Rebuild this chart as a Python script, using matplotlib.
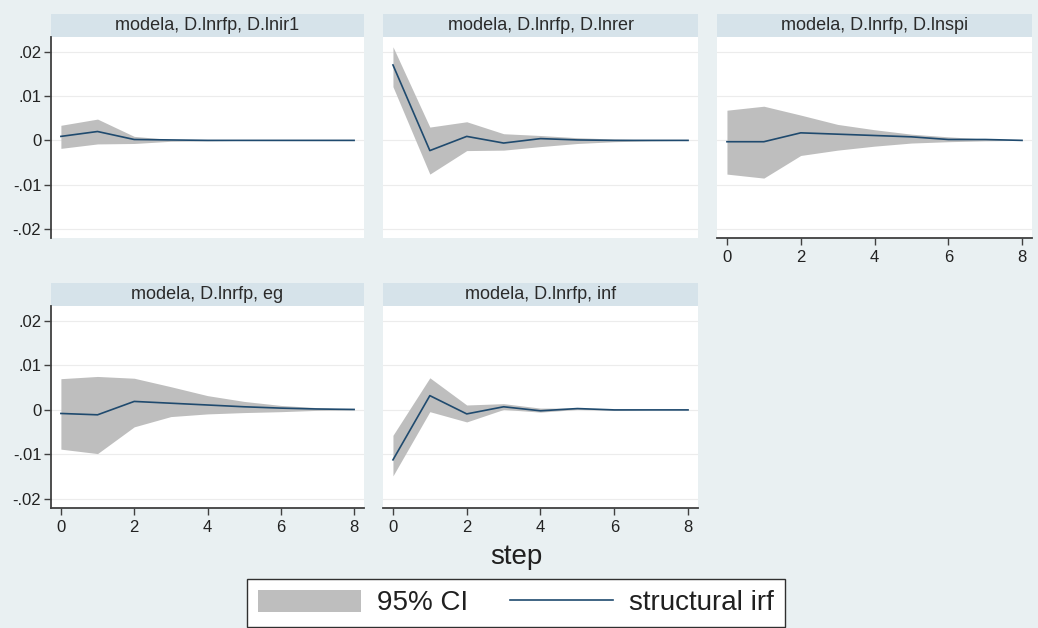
import numpy as np
import matplotlib
matplotlib.use('Agg')
import matplotlib.pyplot as plt

plt.rcParams['font.family'] = ['Liberation Sans', 'DejaVu Sans']

steps = [0, 1, 2, 3, 4, 5, 6, 7, 8]

titles = ['modela, D.lnrfp, D.lnir1', 'modela, D.lnrfp, D.lnrer', 'modela, D.lnrfp, D.lnspi',
          'modela, D.lnrfp, eg', 'modela, D.lnrfp, inf']

lnir1_irf = [0.0009, 0.0020, 0.0002, 0.0001, 0.0, 0.0, 0.0, 0.0, 0.0]
lnir1_lo = [-0.0018, -0.0008, -0.0007, -0.0002, -0.0001, 0.0, 0.0, 0.0, 0.0]
lnir1_hi = [0.0034, 0.0048, 0.0009, 0.0002, 0.0001, 0.0, 0.0, 0.0, 0.0]

lnrer_irf = [0.0170, -0.0023, 0.0009, -0.0006, 0.0004, 0.0001, 0.0, 0.0, 0.0]
lnrer_lo = [0.0121, -0.0076, -0.0023, -0.0022, -0.0014, -0.0007, -0.0003, -0.0001, 0.0]
lnrer_hi = [0.0211, 0.0030, 0.0042, 0.0015, 0.0011, 0.0006, 0.0003, 0.0001, 0.0]

lnspi_irf = [-0.0003, -0.0003, 0.0017, 0.0014, 0.0011, 0.0008, 0.0002, 0.0002, 0.0]
lnspi_lo = [-0.0076, -0.0085, -0.0034, -0.0022, -0.0013, -0.0006, -0.0003, -0.0001, 0.0]
lnspi_hi = [0.0068, 0.0077, 0.0057, 0.0036, 0.0024, 0.0014, 0.0008, 0.0003, 0.0]

eg_irf = [-0.0008, -0.0011, 0.0019, 0.0015, 0.0011, 0.0007, 0.0004, 0.0002, 0.0001]
eg_lo = [-0.0088, -0.0098, -0.0038, -0.0015, -0.0009, -0.0006, -0.0004, -0.0001, 0.0]
eg_hi = [0.0070, 0.0075, 0.0071, 0.0052, 0.0032, 0.0019, 0.0010, 0.0005, 0.0001]

inf_irf = [-0.0112, 0.0032, -0.0009, 0.0007, -0.0002, 0.0003, 0.0, 0.0, 0.0]
inf_lo = [-0.0148, -0.0004, -0.0027, 0.0001, -0.0005, 0.0001, -0.0001, 0.0, 0.0]
inf_hi = [-0.0057, 0.0072, 0.0011, 0.0014, 0.0004, 0.0004, 0.0001, 0.0, 0.0]

yticks = [-0.02, -0.01, 0, 0.01, 0.02]
ytick_labels = ['-.02', '-.01', '0', '.01', '.02']

bg = '#e9f0f2'
strip_col = '#d6e3ea'
band_col = '#bebebe'
line_col = '#1f4a6e'
axis_col = '#404040'

W, H = 1038, 628


def box(x0, y0, x1, y1):
    return [x0 / W, 1 - y1 / H, (x1 - x0) / W, (y1 - y0) / H]


fig = plt.figure(figsize=(W / 100, H / 100), dpi=100)
fig.patch.set_facecolor(bg)

cols = [(51, 364), (383, 698), (717, 1032)]
rows = [((14, 37), (37, 238)), ((283, 306), (306, 508))]

panels = [
    (0, 0, lnir1_irf, lnir1_lo, lnir1_hi),
    (0, 1, lnrer_irf, lnrer_lo, lnrer_hi),
    (0, 2, lnspi_irf, lnspi_lo, lnspi_hi),
    (1, 0, eg_irf, eg_lo, eg_hi),
    (1, 1, inf_irf, inf_lo, inf_hi),
]

fill_h = line_h = None
for k, (r, c, irf, lo, hi) in enumerate(panels):
    x0, x1 = cols[c]
    (s0, s1), (p0, p1) = rows[r]

    # title strip
    sax = fig.add_axes(box(x0, s0, x1, s1))
    sax.set_facecolor(strip_col)
    sax.set_xticks([])
    sax.set_yticks([])
    for sp in sax.spines.values():
        sp.set_visible(False)
    sax.text(0.5, 0.5, titles[k], ha='center', va='center', fontsize=13,
             color='#2a2a2a', transform=sax.transAxes)

    ax = fig.add_axes(box(x0, p0, x1, p1))
    ax.set_facecolor('white')
    fill_h = ax.fill_between(steps, lo, hi, color=band_col, lw=0, zorder=2)
    line_h, = ax.plot(steps, irf, color=line_col, lw=1.2, zorder=3)
    ax.set_xlim(-0.27, 8.27)
    ax.set_ylim(-0.022, 0.0233)
    ax.set_yticks(yticks)
    ax.grid(axis='y', color='#ececec', lw=0.8, zorder=1)
    for sp in ax.spines.values():
        sp.set_visible(False)

    if c == 0:
        ax.spines['left'].set_visible(True)
        ax.spines['left'].set_color(axis_col)
        ax.spines['left'].set_linewidth(1.3)
        ax.set_yticklabels(ytick_labels)
        ax.tick_params(axis='y', length=5, width=1, colors=axis_col,
                       labelsize=12, labelcolor='#222222', pad=2)
    else:
        ax.tick_params(axis='y', length=0, labelleft=False)

    ax.set_xticks([0, 2, 4, 6, 8])
    if r == 1 or c == 2:
        ax.spines['bottom'].set_visible(True)
        ax.spines['bottom'].set_color(axis_col)
        ax.spines['bottom'].set_linewidth(1.3)
        ax.tick_params(axis='x', length=5, width=1, colors=axis_col,
                       labelsize=12, labelcolor='#222222', pad=4)
    else:
        ax.tick_params(axis='x', length=0, labelbottom=False)

fig.text(516 / W, 1 - 557 / H, 'step', ha='center', va='center', fontsize=20, color='#202020')

leg = fig.legend([fill_h, line_h], ['95% CI', 'structural irf'], ncol=2,
                 loc='center', bbox_to_anchor=(516 / W, 1 - 603 / H),
                 fontsize=20, frameon=True, fancybox=False,
                 handlelength=3.7, handleheight=0.85, handletextpad=0.6,
                 columnspacing=1.5, borderpad=0.4, borderaxespad=0)
frame = leg.get_frame()
frame.set_edgecolor('#303030')
frame.set_linewidth(1.0)
frame.set_facecolor('white')
frame.set_alpha(1)
for t in leg.get_texts():
    t.set_color('#202020')

fig.savefig('out.png', dpi=100, facecolor=bg)
